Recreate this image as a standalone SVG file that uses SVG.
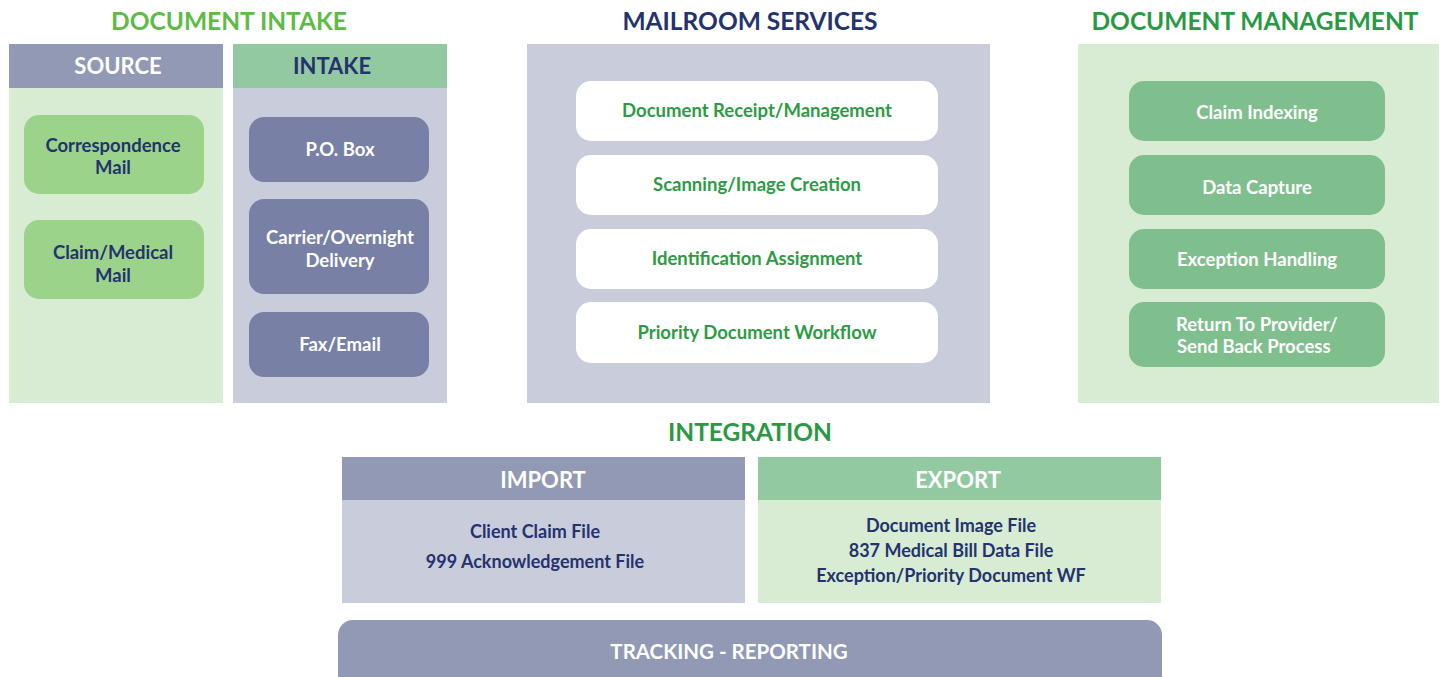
<svg xmlns="http://www.w3.org/2000/svg" width="1442" height="677" viewBox="0 0 1442 677">
  <style>
    text { font-family: Lato, "Open Sans", "Liberation Sans", sans-serif; font-weight: 700; text-anchor: middle; }
    .title { font-size: 24.5px; }
    .t-lgreen { fill: #5DBB46; }
    .t-green { fill: #2A9944; }
    .t-navy { fill: #24336E; }
    .hdr { font-size: 22px; }
    .bar { font-size: 20.5px; }
    .node { font-size: 18.5px; }
    .white { fill: #FFFFFF; }
    .navy { fill: #24336E; }
    .mgreen { fill: #2E9B44; }
    .body-text { font-size: 18px; fill: #24336E; }
    .hdr-grey { fill: #9199B5; }
    .hdr-green { fill: #93C9A1; }
    .bg-lav { fill: #C9CCDB; }
    .bg-green { fill: #D7ECD3; }
    .n-source { fill: #9CD38A; }
    .n-intake { fill: #7880A6; }
    .n-mail { fill: #FFFFFF; }
    .n-mgmt { fill: #7FBF8D; }
  </style>

  <!-- Section titles -->
  <g id="titles">
    <text class="title t-lgreen" x="229" y="30">DOCUMENT INTAKE</text>
    <text class="title t-navy" x="750" y="30">MAILROOM SERVICES</text>
    <text class="title t-green" x="1255" y="30">DOCUMENT MANAGEMENT</text>
    <text class="title t-green" x="750" y="441">INTEGRATION</text>
  </g>

  <!-- Source column -->
  <g id="source">
    <rect class="bg-green" x="9" y="88" width="214" height="315"/>
    <rect class="hdr-grey" x="9" y="44" width="214" height="44"/>
    <text class="hdr white" x="118" y="74">SOURCE</text>
  </g>
  <g id="correspondence-mail">
    <rect class="n-source" x="24" y="115" width="180" height="79" rx="15"/>
    <text class="node navy" x="113" y="152">Correspondence</text>
    <text class="node navy" x="113" y="174">Mail</text>
  </g>
  <g id="claim-medical-mail">
    <rect class="n-source" x="24" y="220" width="180" height="79" rx="15"/>
    <text class="node navy" x="113" y="259">Claim/Medical</text>
    <text class="node navy" x="113" y="282">Mail</text>
  </g>

  <!-- Intake column -->
  <g id="intake">
    <rect class="bg-lav" x="233" y="88" width="214" height="315"/>
    <rect class="hdr-green" x="233" y="44" width="214" height="44"/>
    <text class="hdr navy" x="332" y="74">INTAKE</text>
  </g>
  <g id="po-box">
    <rect class="n-intake" x="249" y="117" width="180" height="65" rx="15"/>
    <text class="node white" x="340" y="156">P.O. Box</text>
  </g>
  <g id="carrier-delivery">
    <rect class="n-intake" x="249" y="199" width="180" height="95" rx="15"/>
    <text class="node white" x="340" y="244">Carrier/Overnight</text>
    <text class="node white" x="340" y="267">Delivery</text>
  </g>
  <g id="fax-email">
    <rect class="n-intake" x="249" y="312" width="180" height="65" rx="15"/>
    <text class="node white" x="340" y="351">Fax/Email</text>
  </g>

  <!-- Mailroom services panel -->
  <g id="mailroom">
    <rect class="bg-lav" x="527" y="44" width="463" height="359"/>
  </g>
  <g id="document-receipt">
    <rect class="n-mail" x="576" y="81" width="362" height="60" rx="15"/>
    <text class="node mgreen" x="757" y="117">Document Receipt/Management</text>
  </g>
  <g id="scanning">
    <rect class="n-mail" x="576" y="155" width="362" height="60" rx="15"/>
    <text class="node mgreen" x="757" y="191">Scanning/Image Creation</text>
  </g>
  <g id="identification">
    <rect class="n-mail" x="576" y="229" width="362" height="60" rx="15"/>
    <text class="node mgreen" x="757" y="265">Identification Assignment</text>
  </g>
  <g id="priority-workflow">
    <rect class="n-mail" x="576" y="302" width="362" height="61" rx="15"/>
    <text class="node mgreen" x="757" y="339">Priority Document Workflow</text>
  </g>

  <!-- Document management panel -->
  <g id="doc-management">
    <rect class="bg-green" x="1078" y="44" width="361" height="359"/>
  </g>
  <g id="claim-indexing">
    <rect class="n-mgmt" x="1129" y="81" width="256" height="60" rx="15"/>
    <text class="node white" x="1257" y="119">Claim Indexing</text>
  </g>
  <g id="data-capture">
    <rect class="n-mgmt" x="1129" y="155" width="256" height="60" rx="15"/>
    <text class="node white" x="1257" y="194">Data Capture</text>
  </g>
  <g id="exception-handling">
    <rect class="n-mgmt" x="1129" y="229" width="256" height="60" rx="15"/>
    <text class="node white" x="1257" y="266">Exception Handling</text>
  </g>
  <g id="return-to-provider">
    <rect class="n-mgmt" x="1129" y="302" width="256" height="65" rx="15"/>
    <text class="node white" x="1176" y="331" style="text-anchor:start">Return To Provider/</text>
    <text class="node white" x="1177" y="353" style="text-anchor:start">Send Back Process</text>
  </g>

  <!-- Integration: import / export -->
  <g id="import">
    <rect class="bg-lav" x="342" y="500" width="403" height="103"/>
    <rect class="hdr-grey" x="342" y="457" width="403" height="43"/>
    <text class="hdr white" x="543" y="488">IMPORT</text>
    <text class="body-text" x="535" y="538">Client Claim File</text>
    <text class="body-text" x="535" y="568">999 Acknowledgement File</text>
  </g>
  <g id="export">
    <rect class="bg-green" x="758" y="500" width="403" height="103"/>
    <rect class="hdr-green" x="758" y="457" width="403" height="43"/>
    <text class="hdr white" x="958" y="488">EXPORT</text>
    <text class="body-text" x="951" y="532">Document Image File</text>
    <text class="body-text" x="951" y="557">837 Medical Bill Data File</text>
    <text class="body-text" x="951" y="582">Exception/Priority Document WF</text>
  </g>

  <!-- Tracking bar -->
  <g id="tracking">
    <rect class="hdr-grey" x="338" y="620" width="824" height="80" rx="15"/>
    <text class="bar white" x="729" y="659">TRACKING - REPORTING</text>
  </g>

  <!-- No connectors are drawn between the blocks -->
  <g id="connectors"/>
</svg>
